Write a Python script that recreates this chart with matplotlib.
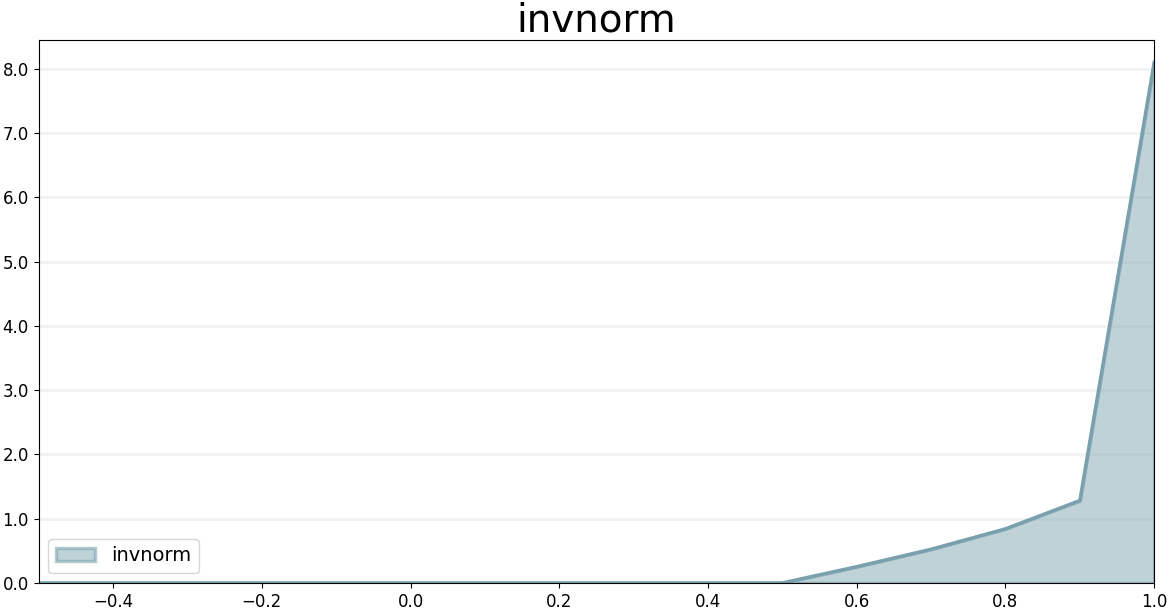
import matplotlib
matplotlib.use("Agg")
import matplotlib.pyplot as plt
from matplotlib.ticker import FormatStrFormatter

# data
x_vals = [-0.5, -0.4, -0.3, -0.2, -0.1, 0.0, 0.1, 0.2, 0.3, 0.4, 0.5, 0.6, 0.7, 0.8, 0.9, 1.0]
y_vals = [0, 0, 0, 0, 0, 0, 0, 0, 0, 0, 0, 0.253, 0.524, 0.842, 1.282, 8.1]
series_name = "invnorm"

fig = plt.figure(figsize=(11.73, 6.13), dpi=100)
ax = fig.add_axes([0.033, 0.049, 0.951, 0.886])

ax.fill_between(x_vals, y_vals, color="#7fa6b3", alpha=0.5,
                edgecolor="#6f9aa8", linewidth=2.5, label=series_name)
ax.plot(x_vals, y_vals, color="#7aa0ad", linewidth=2.5)

ax.set_xlim(-0.5, 1.0)
ax.set_ylim(0, 8.45)
ax.yaxis.set_major_formatter(FormatStrFormatter("%.1f"))
ax.grid(axis="y", color="#f2f2f2", linewidth=2)
ax.set_axisbelow(True)
ax.tick_params(labelsize=12)
ax.set_title("invnorm", fontsize=28, pad=2)
ax.legend(loc="lower left", fontsize=14)

fig.savefig("out.png")
